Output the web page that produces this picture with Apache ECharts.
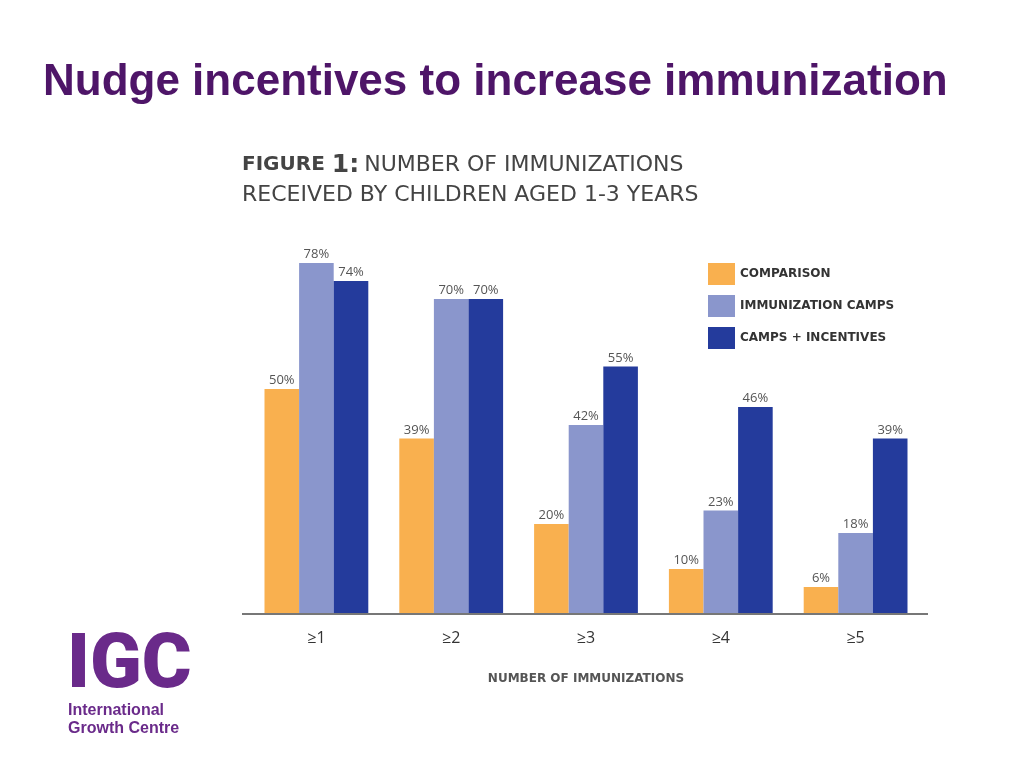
<!DOCTYPE html>
<html><head><meta charset="utf-8">
<script src="https://cdn.jsdelivr.net/npm/echarts@6/dist/echarts.min.js"></script>
<style>html,body{margin:0;padding:0;background:#fff}#c{width:1024px;height:768px}</style>
</head><body><div id="c"></div>
<script>
const categories = ['≥1', '≥2', '≥3', '≥4', '≥5'];
const seriesNames = ['COMPARISON', 'IMMUNIZATION CAMPS', 'CAMPS + INCENTIVES'];
const comparison = [50, 39, 20, 10, 6];
const camps = [78, 70, 42, 23, 18];
const campsIncentives = [74, 70, 55, 46, 39];
const colors = ['#F9B04F', '#8A96CC', '#243B9C'];

const chart = echarts.init(document.getElementById('c'), null, {renderer: 'canvas'});
const labelCfg = {show: true, position: 'top', distance: 2, formatter: '{c}%', fontFamily: 'Open Sans', fontSize: 13, color: '#555'};
const mk = (name, data, i) => ({
  name, type: 'bar', data, barGap: '0%', barCategoryGap: '23%',
  itemStyle: {color: colors[i]}, label: labelCfg, emphasis: {disabled: true}
});
chart.setOption({
  animation: false,
  backgroundColor: '#fff',
  title: [
    {text: 'Nudge incentives to increase immunization', left: 43, top: 61, padding: 0,
     textStyle: {fontFamily: '"Liberation Sans", Arial', fontWeight: 'bold', fontSize: 44, color: '#4E1568'}},
    {text: '{b|FIGURE }{n|1:} {r|NUMBER OF IMMUNIZATIONS}\n{r|RECEIVED BY CHILDREN AGED 1-3 YEARS}', left: 242, top: 150, padding: 0,
     textStyle: {rich: {
       b: {fontFamily: 'DejaVu Sans', fontWeight: 'bold', fontSize: 20, color: '#444', lineHeight: 30},
       n: {fontFamily: 'DejaVu Sans', fontWeight: 'bold', fontSize: 25, color: '#444', lineHeight: 30},
       r: {fontFamily: 'DejaVu Sans', fontWeight: 'normal', fontSize: 22, color: '#444', lineHeight: 30}
     }}}
  ],
  legend: {
    left: 703, top: 258, orient: 'vertical', icon: 'rect', itemWidth: 27, itemHeight: 22, itemGap: 10,
    data: seriesNames,
    textStyle: {fontFamily: 'DejaVu Sans', fontWeight: 'bold', fontSize: 12, color: '#333', padding: [0, 0, 0, 0]}
  },
  grid: {left: 249, width: 674, top: 164, height: 450},
  xAxis: {
    type: 'category', data: categories,
    axisLine: {show: false}, axisTick: {show: false},
    axisLabel: {margin: 16, fontFamily: 'Open Sans', fontSize: 16, color: '#333'},
    name: 'NUMBER OF IMMUNIZATIONS', nameLocation: 'middle', nameGap: 59,
    nameTextStyle: {fontFamily: 'DejaVu Sans', fontWeight: 'bold', fontSize: 12, color: '#555'}
  },
  yAxis: {type: 'value', min: 0, max: 100, show: false, splitLine: {show: false}},
  series: [mk(seriesNames[0], comparison, 0), mk(seriesNames[1], camps, 1), mk(seriesNames[2], campsIncentives, 2)],
  graphic: [
    {type: 'line', shape: {x1: 242, y1: 614, x2: 928, y2: 614}, style: {stroke: '#777', lineWidth: 2}, z: 10},
    {type: 'text', left: 67, top: 630, style: {text: 'IGC', fontFamily: 'Roboto', fontWeight: 900, fontSize: 76, fill: '#6A2A8A'}},
    {type: 'text', left: 68, top: 702, style: {text: 'International\nGrowth Centre', fontFamily: '"Liberation Sans", Arial', fontWeight: 'bold', fontSize: 16, lineHeight: 18, fill: '#6A2A8A'}}
  ]
});
</script></body></html>
